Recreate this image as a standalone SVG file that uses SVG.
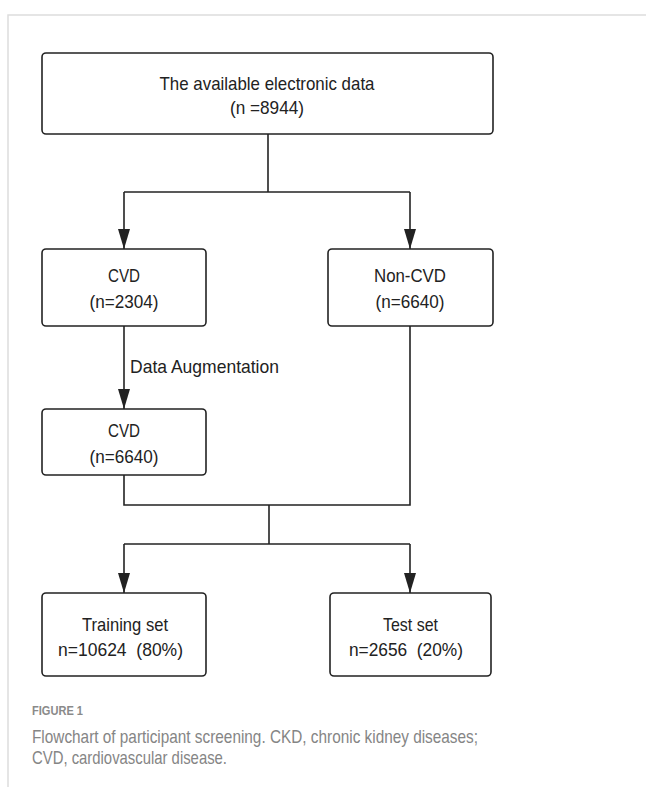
<svg xmlns="http://www.w3.org/2000/svg" width="646" height="787" viewBox="0 0 646 787">
<style>
.box{fill:#fff;stroke:#222;stroke-width:1.6}
.ln{fill:none;stroke:#222;stroke-width:1.6}
.t{font-family:"Liberation Sans",Arial,sans-serif;font-size:19px;fill:#222;text-anchor:middle}
.cap{font-family:"Liberation Sans",Arial,sans-serif;font-size:18.5px;fill:#858585}
.fig{font-family:"Liberation Sans",Arial,sans-serif;font-size:13px;font-weight:bold;fill:#8a8a8a}
</style>
<defs>
<marker id="ah" viewBox="0 0 20 12" refX="20" refY="6" markerWidth="20" markerHeight="12" markerUnits="userSpaceOnUse" orient="auto">
<path d="M0,0 L20,6 L0,12 Z" fill="#222"/>
</marker>
</defs>
<rect width="646" height="787" fill="#fff"/>
<path d="M8,787 V15 H646" fill="none" stroke="#ddd" stroke-width="1.5"/>
<g id="connectors">
<path class="ln" d="M268,134 V192"/>
<path class="ln" d="M124,192 H410"/>
<path class="ln" d="M124,192 V249" marker-end="url(#ah)"/>
<path class="ln" d="M410,192 V249" marker-end="url(#ah)"/>
<path class="ln" d="M124,326 V409" marker-end="url(#ah)"/>
<path class="ln" d="M124,475 V505 H410 V326"/>
<path class="ln" d="M269,505 V544"/>
<path class="ln" d="M124,544 H410"/>
<path class="ln" d="M124,544 V593" marker-end="url(#ah)"/>
<path class="ln" d="M410,544 V593" marker-end="url(#ah)"/>
<text class="t" x="130" y="373" style="text-anchor:start" textLength="149" lengthAdjust="spacingAndGlyphs">Data Augmentation</text>
</g>
<g id="n_top">
<rect class="box" x="42" y="53" width="451" height="81" rx="4"/>
<text class="t" x="267" y="90" textLength="215" lengthAdjust="spacingAndGlyphs">The available electronic data</text>
<text class="t" x="267" y="114" textLength="74" lengthAdjust="spacingAndGlyphs">(n =8944)</text>
</g>
<g id="n_cvd">
<rect class="box" x="42" y="249" width="164" height="77" rx="4"/>
<text class="t" x="124" y="282" textLength="32" lengthAdjust="spacingAndGlyphs">CVD</text>
<text class="t" x="124" y="308" textLength="69" lengthAdjust="spacingAndGlyphs">(n=2304)</text>
</g>
<g id="n_noncvd">
<rect class="box" x="328" y="249" width="165" height="77" rx="4"/>
<text class="t" x="410" y="282" textLength="72" lengthAdjust="spacingAndGlyphs">Non-CVD</text>
<text class="t" x="410" y="308" textLength="69" lengthAdjust="spacingAndGlyphs">(n=6640)</text>
</g>
<g id="n_cvd2">
<rect class="box" x="42" y="409" width="164" height="66" rx="4"/>
<text class="t" x="124" y="437" textLength="32" lengthAdjust="spacingAndGlyphs">CVD</text>
<text class="t" x="124" y="463" textLength="69" lengthAdjust="spacingAndGlyphs">(n=6640)</text>
</g>
<g id="n_train">
<rect class="box" x="42" y="593" width="164" height="83" rx="4"/>
<text class="t" x="125" y="631" textLength="86" lengthAdjust="spacingAndGlyphs">Training set</text>
<text class="t" x="120.5" y="656" xml:space="preserve" textLength="125" lengthAdjust="spacingAndGlyphs">n=10624  (80%)</text>
</g>
<g id="n_test">
<rect class="box" x="330" y="593" width="161" height="83" rx="4"/>
<text class="t" x="410.5" y="631" textLength="55" lengthAdjust="spacingAndGlyphs">Test set</text>
<text class="t" x="406" y="656" xml:space="preserve" textLength="114" lengthAdjust="spacingAndGlyphs">n=2656  (20%)</text>
</g>
<g id="caption">
<text class="fig" x="32" y="715" textLength="51" lengthAdjust="spacingAndGlyphs">FIGURE 1</text>
<text class="cap" x="32" y="743" textLength="446" lengthAdjust="spacingAndGlyphs">Flowchart of participant screening. CKD, chronic kidney diseases;</text>
<text class="cap" x="32" y="764" textLength="195" lengthAdjust="spacingAndGlyphs">CVD, cardiovascular disease.</text>
</g>
</svg>
